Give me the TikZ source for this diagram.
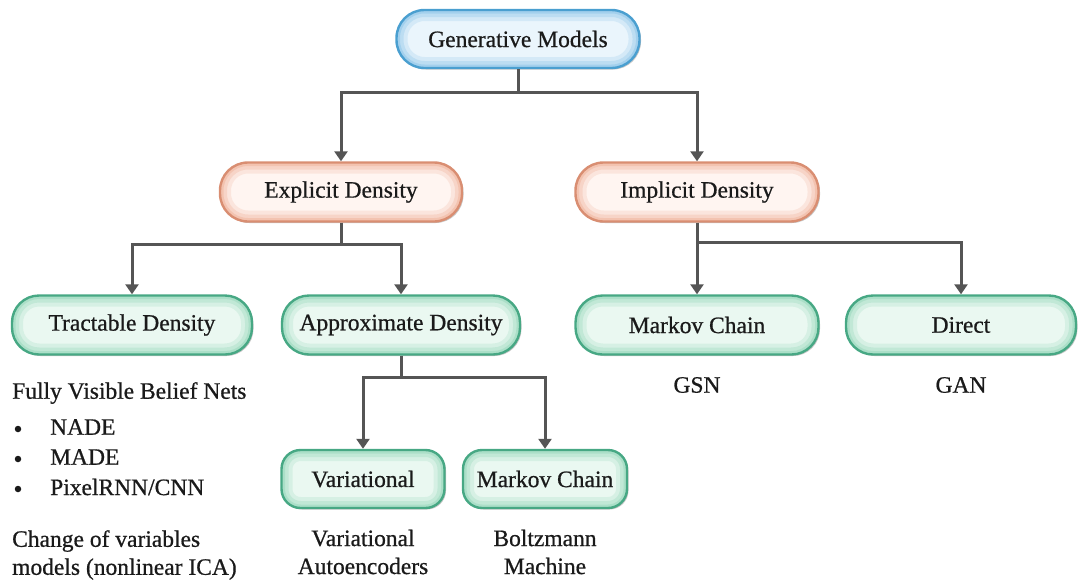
\documentclass[tikz,border=0pt]{standalone}
\usepackage{fontspec}
\setmainfont{Liberation Serif}
\newfontfamily\heavyserif{Liberation Serif}[FakeBold=0.7]
\usetikzlibrary{arrows.meta,shadows}

\definecolor{blueBd}{HTML}{4A9FD0}
\definecolor{blueGl}{HTML}{86C2E8}
\definecolor{blueIn}{HTML}{EAF5FC}
\definecolor{orangeBd}{HTML}{D98E72}
\definecolor{orangeGl}{HTML}{EFAF96}
\definecolor{orangeIn}{HTML}{FFF5F1}
\definecolor{greenBd}{HTML}{47A884}
\definecolor{greenGl}{HTML}{92D6B8}
\definecolor{greenIn}{HTML}{EAF8F1}
\definecolor{wire}{HTML}{555555}
\definecolor{ink}{HTML}{1A1A1A}

\newcommand{\labelfont}{\heavyserif\fontsize{23.5}{28}\selectfont}

\tikzset{
  % rounded box with a soft inner glow along its border
  glowbox/.style n args={4}{
    draw=#1, fill=#3, line width=2.4pt, rounded corners=#4,
    inner sep=0pt, font=\labelfont, text=ink,
    drop shadow={shadow xshift=1.5pt, shadow yshift=-1.5pt, opacity=0.22, fill=black},
    path picture={
      \foreach \w/\o in {22/0.22, 14/0.3, 7/0.45}
        \draw[line width=\w pt, draw=#2, opacity=\o, rounded corners=#4]
          (path picture bounding box.south west) rectangle
          (path picture bounding box.north east);
    }
  },
  topbox/.style={glowbox={blueBd}{blueGl}{blueIn}{28pt}, minimum height=58pt},
  midbox/.style={glowbox={orangeBd}{orangeGl}{orangeIn}{28pt}, minimum height=59pt},
  leafbox/.style={glowbox={greenBd}{greenGl}{greenIn}{27pt}, minimum height=59pt},
  smallbox/.style={glowbox={greenBd}{greenGl}{greenIn}{19pt}, minimum height=58pt},
  wireline/.style={draw=wire, line width=3pt},
  wirearrow/.style={wireline, -{Triangle[width=13pt,length=10pt]}},
  note/.style={font=\labelfont, text=ink, inner sep=0pt},
  dot/.style={circle, fill=ink, inner sep=0pt, minimum size=6.5pt}
}

\begin{document}
\begin{tikzpicture}[x=1pt, y=-1pt]
  \useasboundingbox (0,0) rectangle (1078,579);

  % boxes
  \node[topbox, minimum width=243pt] (gen) at (518,39) {Generative Models};
  \node[midbox, minimum width=242pt] (exp) at (341,192) {Explicit Density};
  \node[midbox, minimum width=243pt] (imp) at (697,192) {Implicit Density};
  \node[leafbox, minimum width=240pt] (trac) at (132,325) {Tractable Density};
  \node[leafbox, minimum width=238pt] (appr) at (401,325) {Approximate Density};
  \node[leafbox, minimum width=243pt] (mca) at (697,325) {Markov Chain};
  \node[leafbox, minimum width=230pt] (dir) at (961,325) {Direct};
  \node[smallbox, minimum width=163pt] (var) at (363,479) {Variational};
  \node[smallbox, minimum width=164pt] (mcb) at (545,479) {Markov Chain};

  % branch points
  \coordinate (j1) at (518,92);
  \coordinate (j2) at (341,244);
  \coordinate (j3) at (697,242);
  \coordinate (j4) at (401,377);

  % connectors
  \draw[wireline] (gen.south) -- (j1);
  \draw[wirearrow] (j1) -| (exp.north);
  \draw[wirearrow] (j1) -| (imp.north);

  \draw[wireline] (exp.south) -- (j2);
  \draw[wirearrow] (j2) -| (trac.north);
  \draw[wirearrow] (j2) -| (appr.north);

  \draw[wireline] (imp.south) -- (j3);
  \draw[wirearrow] (j3) -- (mca.north);
  \draw[wirearrow] (j3) -| (dir.north);

  \draw[wireline] (appr.south) -- (j4);
  \draw[wirearrow] (j4) -| (var.north);
  \draw[wirearrow] (j4) -| (mcb.north);

  % examples under the leaves
  \node[note] (gsn) at (697,385) {GSN};
  \node[note] (gan) at (961,385) {GAN};
  \node[note, align=center] (vae) at (363,552) {Variational\\Autoencoders};
  \node[note, align=center] (bm) at (545,552) {Boltzmann\\Machine};

  \node[note, anchor=west] (fvbn) at (12,393) {Fully Visible Belief Nets};
  \node[dot] (b1) at (18,429) {};
  \node[dot] (b2) at (18,459) {};
  \node[dot] (b3) at (18,489) {};
  \node[note, anchor=west] (nade) at (50,427) {NADE};
  \node[note, anchor=west] (made) at (50,457) {MADE};
  \node[note, anchor=west] (pix) at (50,487) {PixelRNN/CNN};
  \node[note, anchor=west, align=left] (cov) at (12,555) {Change of variables\\models (nonlinear ICA)};
\end{tikzpicture}
\end{document}
